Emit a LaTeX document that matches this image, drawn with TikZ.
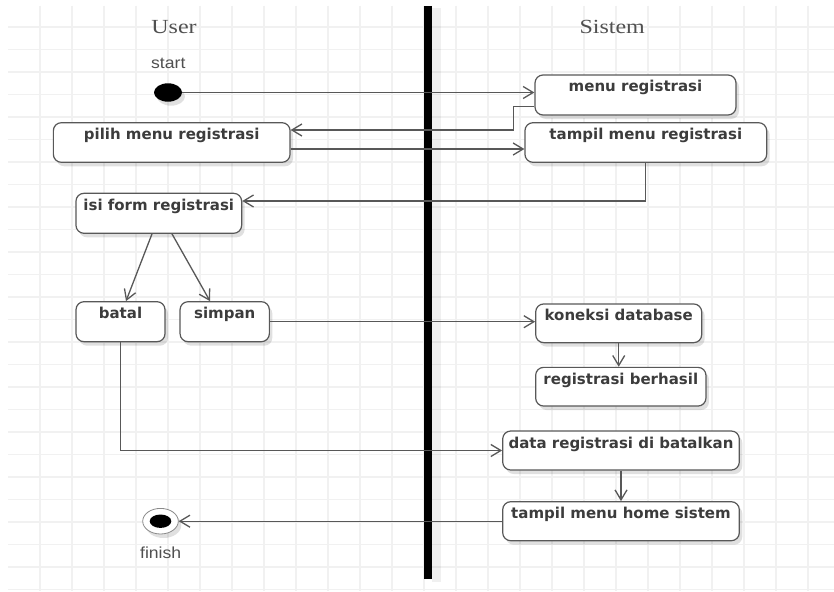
\documentclass[tikz,border=0pt]{standalone}
\usepackage{fontspec}
\usepackage{graphicx}
\usetikzlibrary{arrows.meta,shadows,shapes.geometric}
\newfontfamily\actfont{DejaVu Sans}
\newfontfamily\lanefont{Liberation Serif}
\newfontfamily\tagfont{Liberation Sans}
\definecolor{gridline}{HTML}{F1F1F1}
\definecolor{edge}{HTML}{585858}
\definecolor{ink}{HTML}{3C3C3C}
\definecolor{lanetext}{HTML}{505050}

\begin{document}
\begin{tikzpicture}[x=1pt,y=-1pt,
  softshadow/.style={drop shadow={shadow xshift=3pt, shadow yshift=-4pt, opacity=0.12, fill=black}},
  act/.style={draw=edge, line width=1.2pt, rounded corners=8pt, fill=white, softshadow,
    font=\actfont\bfseries\fontsize{15}{18}\selectfont, text=ink,
    inner xsep=2pt, inner ysep=3pt, text height=14pt, text depth=#1},
  act/.default=20pt,
  flow/.style={draw=edge, line width=1.3pt,
    -{Straight Barb[length=10pt,width=12pt,line width=1.3pt]}},
  lane/.style={anchor=base, font=\lanefont\fontsize{20}{24}\selectfont, text=lanetext},
  tag/.style={anchor=base, font=\tagfont\fontsize{16}{19}\selectfont, text=lanetext},
]
% canvas and background grid
\useasboundingbox (0,0) rectangle (834,591);
\fill[white] (0,0) rectangle (834,591);
\foreach \gx in {40,72,...,808}
  \draw[gridline, line width=1.5pt] (\gx,6) -- (\gx,591);
\foreach \k in {1,...,26}
  \draw[gridline, line width=1.5pt] (8,{4.5+22.5*\k}) -- (834,{4.5+22.5*\k});

% swimlane divider
\fill[black, opacity=0.06] (432,8) rectangle (441,582);
\draw[black, line width=8.5pt] (427.8,6) -- (427.8,579);

% lane titles
\node[lane] (userlane) at (174,33.3) {\scalebox{1.2}[1]{User}};
\node[lane] (systemlane) at (612.2,33.3) {\scalebox{1.2}[1]{Sistem}};

% initial and final states
\node[ellipse, fill=black, minimum width=28pt, minimum height=18.4pt, inner sep=0pt, softshadow] (start) at (168,92.5) {};
\node[tag] (startlabel) at (168.3,68.3) {\scalebox{1.1}[1]{start}};
\node[ellipse, draw=edge!70, line width=0.8pt, fill=white, minimum width=35.6pt, minimum height=25.6pt, inner sep=0pt, softshadow] (finish) at (160.5,521.2) {};
\fill[black] (finish.center) ellipse [x radius=10.8, y radius=6.7];
\node[tag] (finishlabel) at (160.7,558.3) {\scalebox{1.1}[1]{finish}};

% activities
\node[act, minimum width=201pt] (mr) at (635.5,95) {menu registrasi};
\node[act=19.6pt, minimum width=241.7pt] (tmr) at (645.8,142.5) {tampil menu registrasi};
\node[act=19.6pt, minimum width=236.7pt] (pmr) at (171.7,142.5) {pilih menu registrasi};
\node[act, minimum width=165.7pt] (ifr) at (158.8,213.3) {isi form registrasi};
\node[act, minimum width=89pt] (batal) at (120.5,321.7) {batal};
\node[act, minimum width=89.3pt] (simpan) at (224.7,321.7) {simpan};
\node[act=18.7pt, minimum width=166pt] (kdb) at (618.7,323.3) {koneksi database};
\node[act=18.7pt, minimum width=170.3pt] (rb) at (620.8,386.7) {registrasi berhasil};
\node[act=19pt, minimum width=236.6pt] (drb) at (621,450.5) {data registrasi di batalkan};
\node[act=19pt, minimum width=236.6pt] (tmh) at (621,521.2) {tampil menu home sistem};

% control flow
\draw[flow] (start.east) -- (start -| mr.west);
\draw[flow] ([yshift=-11.7pt]mr.west) -- ++(-20.7,0) |- ([yshift=12.5pt]pmr.east);
\draw[flow] ([yshift=-6.5pt]pmr.east) -- ([yshift=-6.5pt]tmr.west);
\draw[flow] (tmr.south) |- ([yshift=12.3pt]ifr.east);
\draw[flow] ([xshift=-6.8pt]ifr.south) -- ([xshift=5.5pt]batal.north);
\draw[flow] ([xshift=13.2pt]ifr.south) -- ([xshift=-14.7pt]simpan.north);
\draw[flow] (simpan.east) -- (simpan.east -| kdb.west);
\draw[flow] (kdb.south) -- (kdb.south |- rb.north);
\draw[flow] (batal.south) |- (drb.west);
\draw[flow] (drb.south) -- (tmh.north);
\draw[flow] (tmh.west) -- (finish.east);
\end{tikzpicture}
\end{document}
